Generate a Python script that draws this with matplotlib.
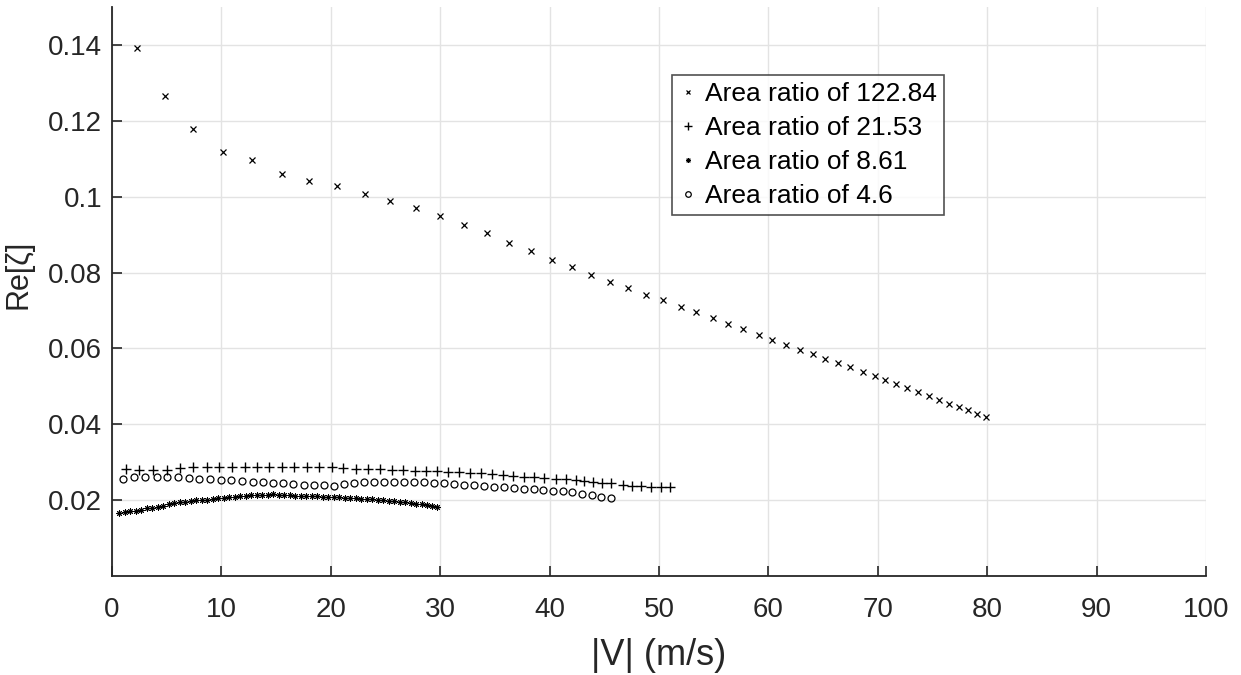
import matplotlib
matplotlib.use("Agg")
import matplotlib.pyplot as plt

# Area ratio of 122.84  (x markers)
v_12284 = [2.3, 4.8, 7.4, 10.1, 12.8, 15.5, 18.0, 20.6, 23.1, 25.4, 27.8, 30.0,
           32.2, 34.3, 36.3, 38.3, 40.2, 42.0, 43.8, 45.5, 47.2, 48.8, 50.4, 52.0,
           53.4, 54.9, 56.3, 57.7, 59.1, 60.3, 61.6, 62.9, 64.1, 65.2, 66.4, 67.5,
           68.6, 69.7, 70.7, 71.7, 72.7, 73.7, 74.7, 75.6, 76.5, 77.4, 78.2, 79.1, 79.9]
re_12284 = [0.1391, 0.1265, 0.1179, 0.1118, 0.1098, 0.1060, 0.1041, 0.1027, 0.1006,
            0.0989, 0.0969, 0.0950, 0.0926, 0.0903, 0.0879, 0.0857, 0.0834, 0.0814,
            0.0793, 0.0774, 0.0759, 0.0740, 0.0728, 0.0709, 0.0696, 0.0680, 0.0664,
            0.0650, 0.0636, 0.0621, 0.0608, 0.0597, 0.0584, 0.0573, 0.0561, 0.0551,
            0.0538, 0.0527, 0.0516, 0.0505, 0.0496, 0.0486, 0.0474, 0.0465, 0.0454,
            0.0446, 0.0437, 0.0427, 0.0418]

# Area ratio of 21.53  (+ markers)
v_2153 = [1.28, 2.50, 3.72, 5.00, 6.22, 7.43, 8.66, 9.81, 10.97, 12.13, 13.23, 14.38,
          15.57, 16.64, 17.80, 18.95, 20.08, 21.14, 22.28, 23.37, 24.50, 25.57, 26.63,
          27.70, 28.67, 29.68, 30.74, 31.75, 32.72, 33.70, 34.71, 35.71, 36.68, 37.69,
          38.60, 39.52, 40.59, 41.50, 42.39, 43.14, 43.94, 44.76, 45.58, 46.68, 47.50,
          48.33, 49.27, 50.16, 51.01]
re_2153 = [0.02815, 0.02788, 0.02788, 0.02807, 0.02852, 0.02878, 0.02878, 0.02878,
           0.02878, 0.02878, 0.02878, 0.02873, 0.02868, 0.02878, 0.02878, 0.02868,
           0.02868, 0.02852, 0.02833, 0.02833, 0.02815, 0.02807, 0.02799, 0.02780,
           0.02762, 0.02767, 0.02754, 0.02746, 0.02728, 0.02709, 0.02693, 0.02656,
           0.02640, 0.02622, 0.02603, 0.02587, 0.02569, 0.02550, 0.02534, 0.02516,
           0.02489, 0.02463, 0.02444, 0.02392, 0.02376, 0.02376, 0.02357, 0.02339,
           0.02339]

# Area ratio of 8.61  (* markers)
v_861 = [0.64, 1.15, 1.65, 2.15, 2.65, 3.15, 3.66, 4.16, 4.66, 5.17, 5.67, 6.17, 6.67,
         7.18, 7.68, 8.18, 8.68, 9.19, 9.69, 10.19, 10.69, 11.20, 11.70, 12.21, 12.71,
         13.21, 13.71, 14.22, 14.72, 15.22, 15.72, 16.23, 16.73, 17.23, 17.73, 18.24,
         18.74, 19.24, 19.74, 20.25, 20.75, 21.25, 21.76, 22.26, 22.76, 23.27, 23.77,
         24.27, 24.77, 25.28, 25.78, 26.28, 26.78, 27.29, 27.79, 28.29, 28.79, 29.25,
         29.71]
re_861 = [0.0167, 0.0168, 0.0170, 0.0172, 0.0175, 0.0178, 0.0180, 0.0183, 0.0185,
          0.0189, 0.0192, 0.0194, 0.0196, 0.0197, 0.0199, 0.0200, 0.0201, 0.0203,
          0.0205, 0.0206, 0.0208, 0.0209, 0.0211, 0.0212, 0.0213, 0.0213, 0.0214,
          0.0214, 0.0215, 0.0214, 0.0214, 0.0213, 0.0212, 0.0212, 0.0211, 0.0210,
          0.0210, 0.0209, 0.0209, 0.0208, 0.0207, 0.0206, 0.0205, 0.0205, 0.0204,
          0.0203, 0.0202, 0.0201, 0.0200, 0.0198, 0.0197, 0.0196, 0.0194, 0.0192,
          0.0191, 0.0189, 0.0187, 0.0185, 0.0183]

# Area ratio of 4.6  (o markers)
v_46 = [0.98, 2.01, 3.04, 4.09, 5.05, 6.03, 7.01, 7.98, 8.96, 9.94, 10.90, 11.88,
        12.86, 13.78, 14.69, 15.63, 16.57, 17.52, 18.49, 19.38, 20.32, 21.23, 22.15,
        23.06, 23.98, 24.86, 25.75, 26.69, 27.61, 28.52, 29.47, 30.38, 31.26, 32.18,
        33.09, 34.00, 34.92, 35.83, 36.72, 37.63, 38.55, 39.42, 40.28, 41.18, 42.07,
        42.93, 43.85, 44.74, 45.61]
re_46 = [0.02569, 0.02614, 0.02614, 0.02614, 0.02614, 0.02614, 0.02577, 0.02561,
         0.02561, 0.02542, 0.02524, 0.02508, 0.02489, 0.02476, 0.02463, 0.02444,
         0.02431, 0.02405, 0.02405, 0.02397, 0.02381, 0.02431, 0.02458, 0.02468,
         0.02484, 0.02484, 0.02476, 0.02481, 0.02474, 0.02474, 0.02460, 0.02442,
         0.02429, 0.02410, 0.02392, 0.02376, 0.02357, 0.02339, 0.02323, 0.02304,
         0.02286, 0.02270, 0.02251, 0.02233, 0.02204, 0.02172, 0.02132, 0.02087,
         0.02058]

labels = ["Area ratio of 122.84", "Area ratio of 21.53",
          "Area ratio of 8.61", "Area ratio of 4.6"]
x_ticks = [0, 10, 20, 30, 40, 50, 60, 70, 80, 90, 100]
y_ticks = [0.02, 0.04, 0.06, 0.08, 0.1, 0.12, 0.14]
y_tick_labels = ["0.02", "0.04", "0.06", "0.08", "0.1", "0.12", "0.14"]

plt.rcParams['font.family'] = ['Liberation Sans', 'DejaVu Sans']

fig = plt.figure(figsize=(12.41, 6.75), dpi=100)
ax = fig.add_axes([0.0903, 0.1467, 0.8815, 0.8429])

dark = '#262626'
ax.plot(v_12284, re_12284, linestyle='none', marker='x', ms=4, mew=0.9,
        color='black', label=labels[0])
ax.plot(v_2153, re_2153, linestyle='none', marker='+', ms=6.5, mew=1.0,
        color='black', label=labels[1])
# MATLAB-style asterisk: + and x overlaid
ax.plot(v_861, re_861, linestyle='none', marker=(8, 2, 0), ms=4.5, mew=0.7,
        color='black', label=labels[2])
ax.plot(v_46, re_46, linestyle='none', marker='o', ms=5, mew=0.9,
        color='black', markerfacecolor='none', label=labels[3])

ax.set_xlim(0, 100)
ax.set_ylim(0, 0.15)
ax.set_xticks(x_ticks)
ax.set_yticks(y_ticks)
ax.set_yticklabels(y_tick_labels)

ax.grid(True, color='#e3e3e3', linewidth=1.0)
ax.set_axisbelow(True)
for side in ['top', 'right']:
    ax.spines[side].set_visible(False)
for side in ['left', 'bottom']:
    ax.spines[side].set_color(dark)
    ax.spines[side].set_linewidth(1.3)
ax.tick_params(direction='in', length=7, width=1.2, colors=dark,
               labelsize=20, labelcolor=dark)
ax.tick_params(axis='x', pad=15)
ax.tick_params(axis='y', pad=7)

ax.set_xlabel('|V| (m/s)', fontsize=26, color=dark, labelpad=11)
ax.set_ylabel('Re[ζ]', fontsize=22, color=dark, labelpad=12)
ax.yaxis.set_label_coords(-0.072, 0.53)

leg = ax.legend(loc='upper left', bbox_to_anchor=(0.512, 0.880), borderaxespad=0,
                fontsize=19, frameon=True, fancybox=False, handlelength=0.7,
                handletextpad=0.3, labelspacing=0.38, borderpad=0.25,
                markerscale=0.8)
leg.get_frame().set_edgecolor(dark)
leg.get_frame().set_linewidth(1.2)
for t in leg.get_texts():
    t.set_color('black')

fig.savefig('out.png', dpi=100)
